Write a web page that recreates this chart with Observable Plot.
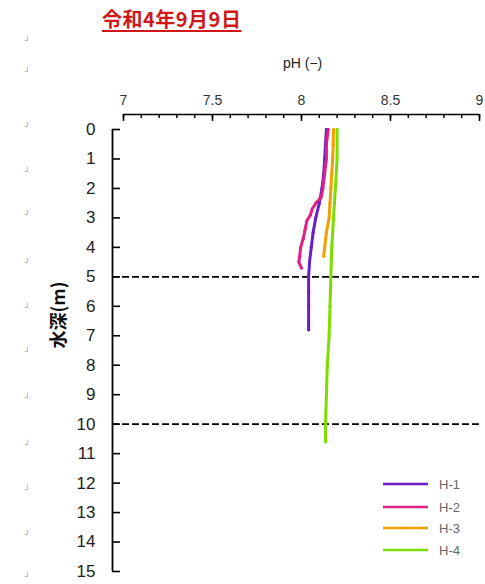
<!DOCTYPE html>
<html><head><meta charset="utf-8">
<script src="https://cdn.jsdelivr.net/npm/d3@7"></script>
<script src="https://cdn.jsdelivr.net/npm/@observablehq/plot@0.6"></script>
<style>
body{margin:0;background:#fff;}
#wrap{position:relative;width:485px;height:584px;}
#title{position:absolute;left:102px;top:7px;font-family:"Noto Sans CJK JP",sans-serif;font-weight:bold;font-size:20px;line-height:24px;color:#d01818;text-decoration:underline;text-underline-offset:3px;letter-spacing:0.5px;white-space:nowrap;}
#xlabel{position:absolute;left:283px;top:55px;font-family:"Liberation Sans",sans-serif;font-size:14px;line-height:16px;color:#222;white-space:nowrap;}
#ylabel{position:absolute;left:57px;top:315px;transform:translate(-50%,-50%) rotate(-90deg);font-family:"Noto Sans CJK JP",sans-serif;font-weight:bold;font-size:18px;line-height:22px;color:#111;white-space:nowrap;}
#legend{position:absolute;left:372px;top:470px;width:100px;height:95px;background:#fff;}
.pm{position:absolute;left:25px;width:8px;height:10px;font-size:8px;line-height:10px;color:#999;font-family:"DejaVu Sans",sans-serif;}
</style></head><body><div id="wrap"></div>
<script>
const seriesNames = ["H-1", "H-2", "H-3", "H-4"];
const seriesColors = ["#6a1fc4", "#e0208a", "#f0a000", "#7ddc00"];

const depthH1 = [0, 0.5, 1, 1.5, 2, 2.5, 3, 3.5, 4, 4.5, 5, 5.5, 6, 6.5, 6.8];
const phH1    = [8.14, 8.135, 8.13, 8.125, 8.115, 8.10, 8.08, 8.065, 8.055, 8.045, 8.04, 8.04, 8.04, 8.04, 8.04];

const depthH2 = [0, 0.5, 1, 1.5, 2, 2.3, 2.5, 2.7, 2.9, 3.1, 3.4, 3.7, 4.0, 4.3, 4.5, 4.7];
const phH2    = [8.15, 8.14, 8.14, 8.13, 8.12, 8.11, 8.08, 8.06, 8.05, 8.03, 8.02, 8.01, 7.995, 7.99, 7.985, 8.0];

const depthH3 = [0, 0.5, 1, 1.5, 2, 2.5, 3, 3.5, 4, 4.3];
const phH3    = [8.18, 8.178, 8.175, 8.17, 8.165, 8.16, 8.155, 8.14, 8.13, 8.125];

const depthH4 = [0, 1, 2, 3, 4, 5, 6, 7, 8, 9, 10, 10.6];
const phH4    = [8.20, 8.20, 8.19, 8.18, 8.17, 8.165, 8.16, 8.155, 8.145, 8.14, 8.135, 8.135];

const xTickValues = [7, 7.5, 8, 8.5, 9];
const xTickLabels = ["7", "7.5", "8", "8.5", "9"];
const yTickValues = [0,1,2,3,4,5,6,7,8,9,10,11,12,13,14,15];
const refDepths = [5, 10];
const paraMarkY = [42, 73, 128, 173, 216, 264, 309, 353, 399, 446, 491, 536, 578];

const depths = [depthH1, depthH2, depthH3, depthH4];
const phs = [phH1, phH2, phH3, phH4];
const rows = [];
seriesNames.forEach((s, i) => depths[i].forEach((d, j) => rows.push({series: s, depth: d, ph: phs[i][j]})));
const drawOrder = ["H-4", "H-3", "H-1", "H-2"];
const ordered = drawOrder.flatMap(s => rows.filter(r => r.series === s));

// layout (pixels)
const W = 485, H = 584;
const axisLeftPx = 112, x7Px = 123, x9Px = 479;
const axisTopPx = 114, y0Px = 129, y15Px = 571;
const pxPerPH = (x9Px - x7Px) / 2, pxPerM = (y15Px - y0Px) / 15;
const xMin = 7 - (x7Px - axisLeftPx) / pxPerPH;
const yMin = -(y0Px - axisTopPx) / pxPerM;
const mL = axisLeftPx, mR = W - x9Px, mT = axisTopPx, mB = H - y15Px;
const plotW = W - mL - mR, plotH = H - mT - mB;
const minorTicks = d3.range(70, 91).map(v => v / 10);
const topAxisRow = [{y: yMin}];

const chart = Plot.plot({
  width: W, height: H,
  marginLeft: mL, marginRight: mR, marginTop: mT, marginBottom: mB,
  x: {domain: [xMin, 9]},
  y: {domain: [yMin, 15], reverse: true},
  color: {domain: seriesNames, range: seriesColors},
  marks: [
    // top axis line + ticks
    Plot.ruleY(topAxisRow, {y: "y", x1: 7, x2: 9, stroke: "#000", strokeWidth: 1.6}),
    Plot.ruleX(minorTicks, {insetBottom: plotH - 4, stroke: "#000", strokeWidth: 1.5}),
    Plot.ruleX(xTickValues, {insetBottom: plotH - 7, stroke: "#000", strokeWidth: 1.6}),
    Plot.axisX(xTickValues, {anchor: "top", tickSize: 0, tickPadding: 10, fontSize: 14, fill: "#333",
      fontFamily: "Liberation Sans", tickFormat: (d, i) => xTickLabels[i], label: null}),
    // left axis
    Plot.ruleX([xMin], {insetTop: y0Px - axisTopPx, stroke: "#000", strokeWidth: 1.8}),
    Plot.ruleY(yTickValues, {insetRight: plotW - 8, stroke: "#000", strokeWidth: 1.6}),
    Plot.axisY(yTickValues, {anchor: "left", tickSize: 0, tickPadding: 17, fontSize: 17, fill: "#222",
      fontFamily: "Liberation Sans", label: null}),
    // reference lines and data
    Plot.ruleY(refDepths, {stroke: "#000", strokeWidth: 1.7, strokeDasharray: "7,3"}),
    Plot.line(ordered, {x: "ph", y: "depth", z: "series", stroke: "series", strokeWidth: 3}),
    Plot.dot(ordered, {x: "ph", y: "depth", fill: "series", r: 1.6})
  ]
});
const wrap = document.getElementById("wrap");
wrap.appendChild(chart);
chart.style.position = "absolute";
chart.style.left = "0px";
chart.style.top = "0px";

function addDiv(id, text) {
  const d = document.createElement("div");
  d.id = id; d.textContent = text; wrap.appendChild(d); return d;
}
addDiv("title", "令和4年9月9日");
addDiv("xlabel", "pH (−)");
addDiv("ylabel", "水深(m)");

// legend
const lg = d3.select(wrap).append("div").attr("id", "legend")
  .append("svg").attr("width", 100).attr("height", 95);
const legendRowY = [14, 37, 58, 80];
seriesNames.forEach((s, i) => {
  lg.append("line").attr("x1", 11).attr("x2", 56).attr("y1", legendRowY[i]).attr("y2", legendRowY[i])
    .attr("stroke", seriesColors[i]).attr("stroke-width", 2.5);
  lg.append("text").attr("x", 67).attr("y", legendRowY[i]).attr("dy", "0.35em")
    .attr("font-family", "Liberation Sans").attr("font-size", 13).attr("fill", "#666").text(s);
});

paraMarkY.forEach(y => {
  const d = document.createElement("div");
  d.className = "pm"; d.style.top = (y - 6) + "px"; d.textContent = "┘";
  wrap.appendChild(d);
});
</script>
</body></html>
